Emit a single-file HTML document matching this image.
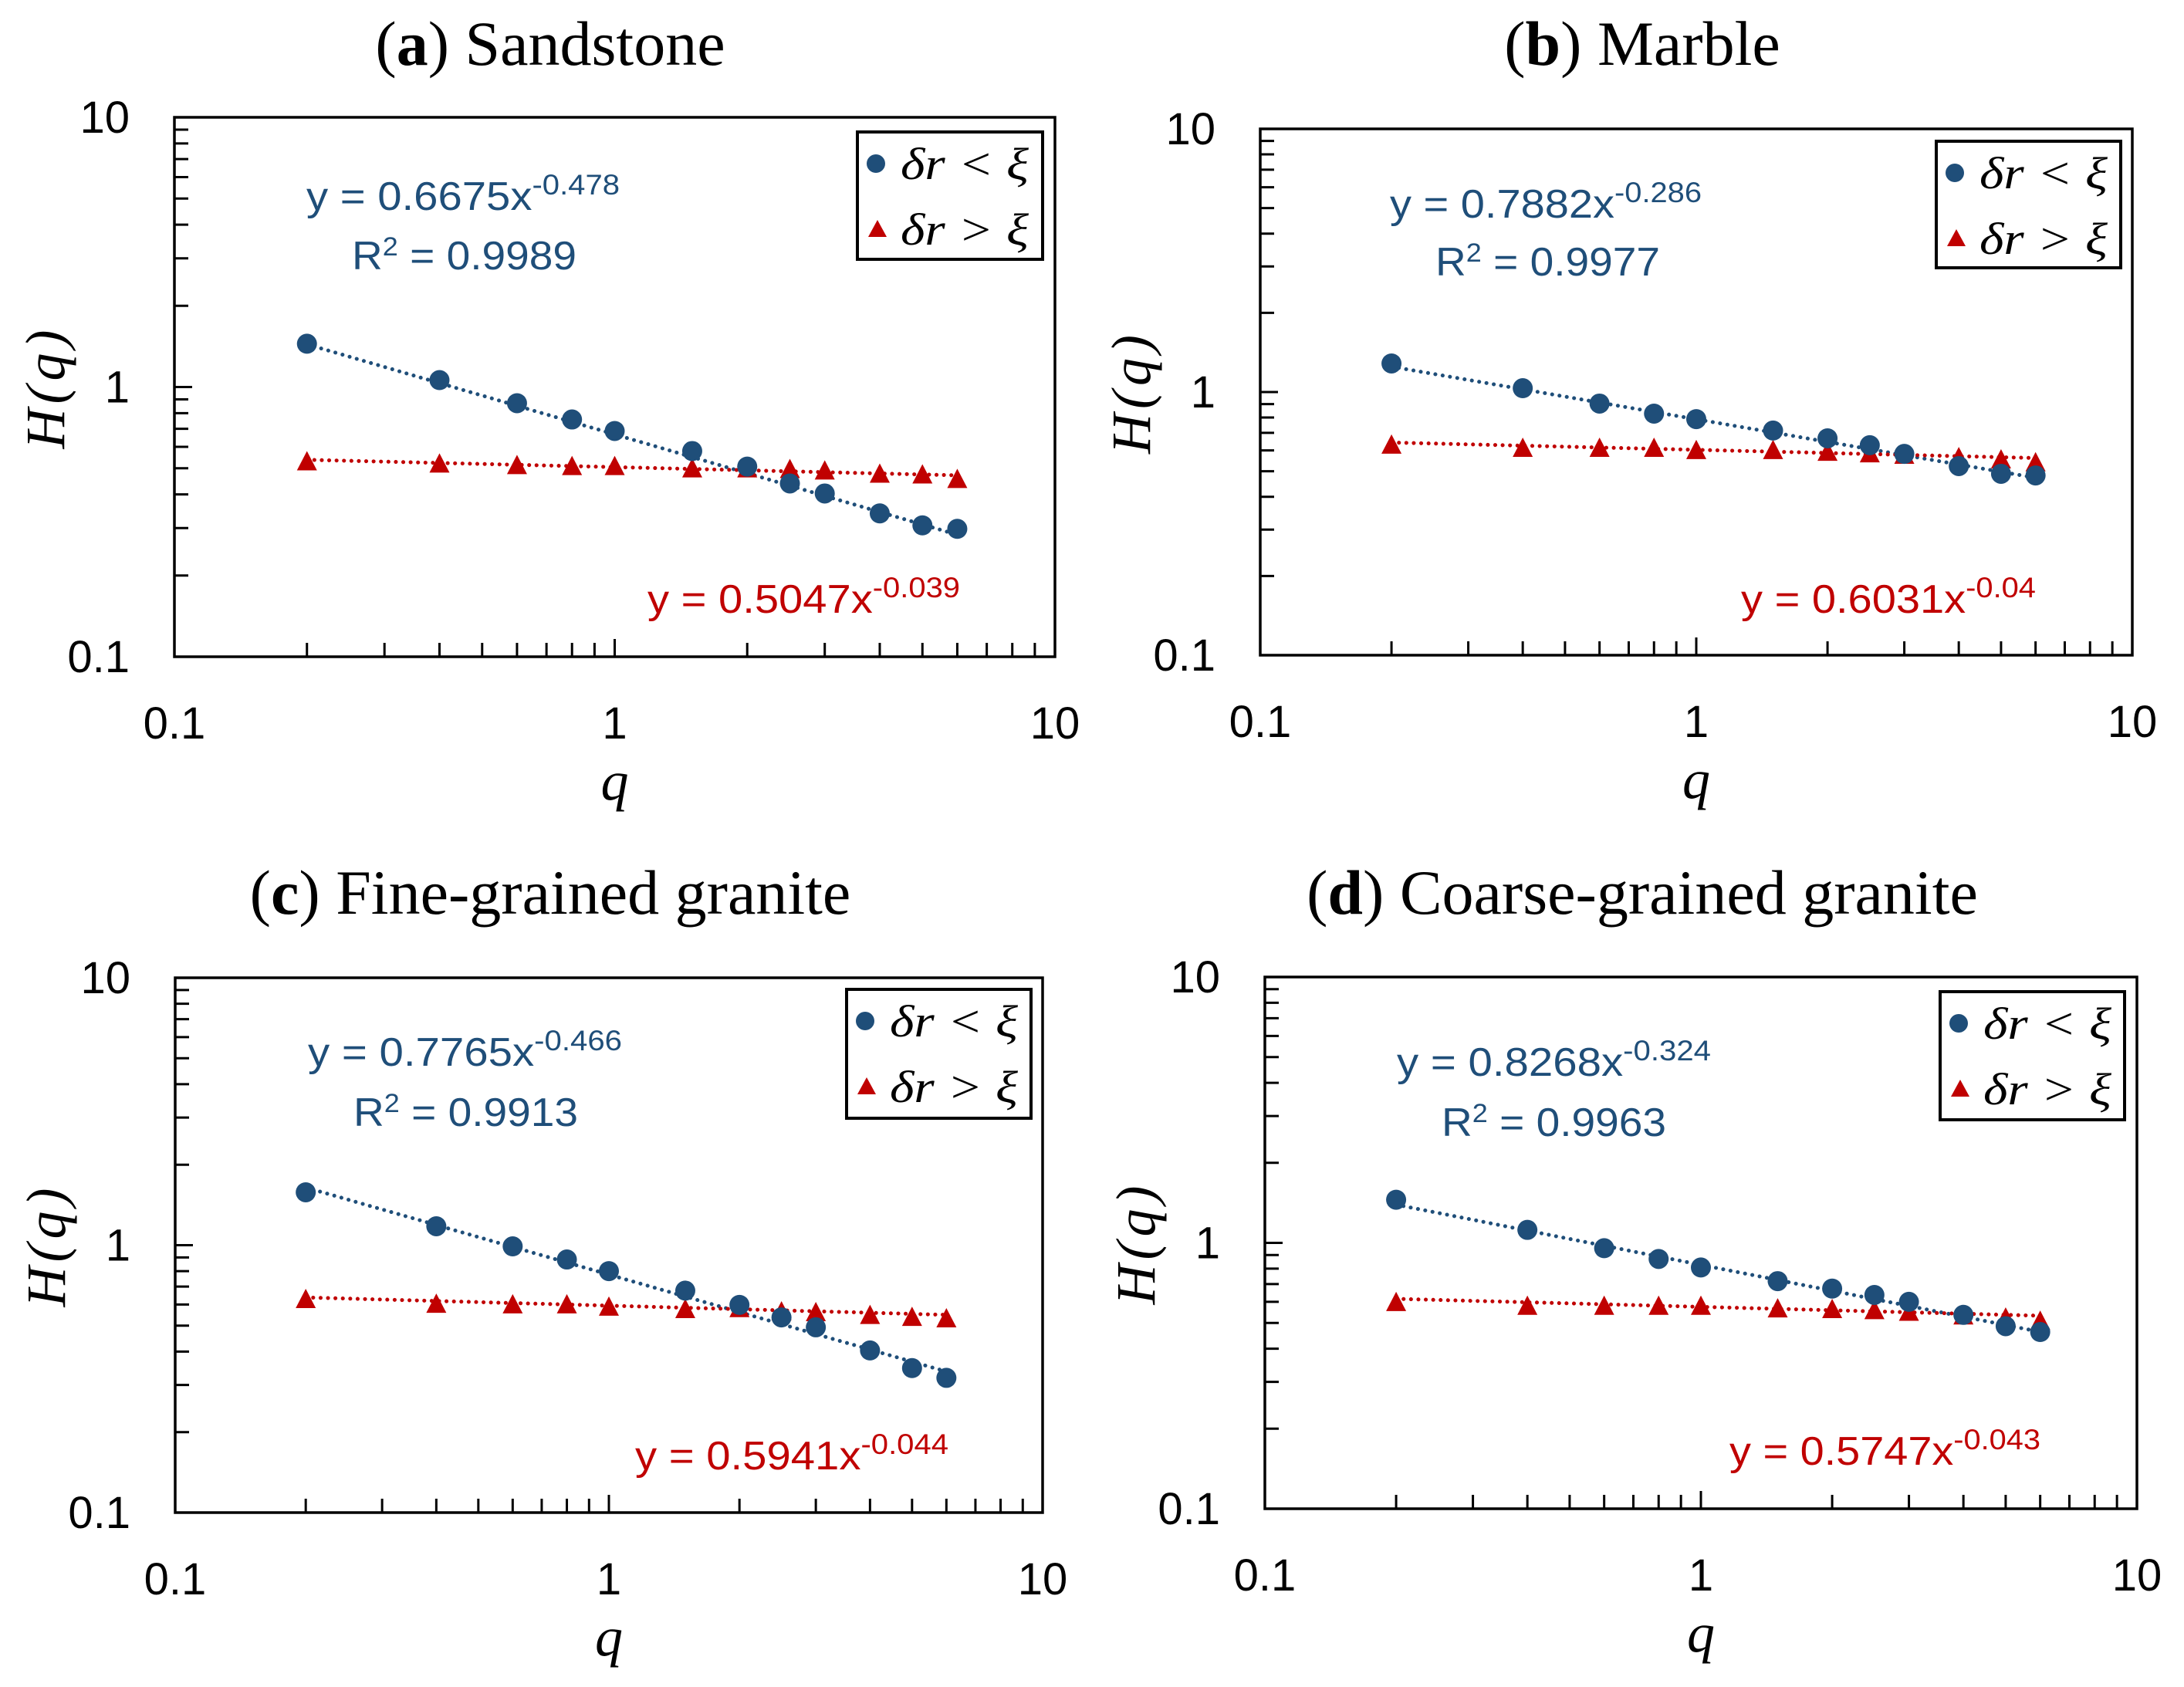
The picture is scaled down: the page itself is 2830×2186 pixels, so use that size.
<!DOCTYPE html>
<html><head><meta charset="utf-8"><style>
html,body{margin:0;padding:0;background:#fff;}
svg{display:block;}
</style></head><body>
<svg id="fig" width="2830" height="2186" viewBox="0 0 2830 2186" xmlns="http://www.w3.org/2000/svg"></svg>
<script>
const qValues = [0.2,0.4,0.6,0.8,1,1.5,2,2.5,3,4,5,6];
const blueA = [1.447,1.061,0.871,0.758,0.687,0.579,0.507,0.439,0.403,0.340,0.307,0.298];
const redA  = [0.528,0.518,0.511,0.507,0.507,0.497,0.497,0.494,0.488,0.475,0.472,0.454];
const blueB = [1.284,1.034,0.904,0.828,0.789,0.714,0.667,0.628,0.582,0.523,0.489,0.482];
const redB  = [0.628,0.611,0.611,0.611,0.599,0.599,0.590,0.582,0.575,0.563,0.552,0.538];
const blueC = [1.577,1.177,0.990,0.884,0.800,0.676,0.598,0.537,0.493,0.404,0.347,0.319];
const redC  = [0.626,0.601,0.598,0.598,0.586,0.574,0.579,0.563,0.559,0.546,0.537,0.530];
const blueD = [1.453,1.119,0.955,0.870,0.808,0.718,0.673,0.637,0.600,0.536,0.486,0.462];
const redD  = [0.596,0.577,0.577,0.577,0.577,0.564,0.561,0.556,0.548,0.531,0.521,0.507];
const fitCoefBlue = [0.6675,0.7882,0.7765,0.8268];
const fitExpBlue = [-0.478,-0.286,-0.466,-0.324];
const fitCoefRed = [0.5047,0.6031,0.5941,0.5747];
const fitExpRed = [-0.039,-0.04,-0.044,-0.043];
const r2Labels = ["0.9989","0.9977","0.9913","0.9963"];
const titleLetters = ["a","b","c","d"];
const titleNames = ["Sandstone","Marble","Fine-grained granite","Coarse-grained granite"];
const xTickLabels = ["0.1","1","10"];
const yTickLabels = ["0.1","1","10"];

const blueSeries=[blueA,blueB,blueC,blueD], redSeries=[redA,redB,redC,redD];
const BLUE="#1F4E79", RED="#C00000";
const panels=[
 {L:226,R:1367,T:152,B:851,tx:713,ty:84,eq1:[397,272,406],r2:[456,349,291],eq2:[839,794,405],leg:[1111,171,1351,336]},
 {L:1633,R:2763,T:167,B:849,tx:2128,ty:84,eq1:[1801,282,404],r2:[1860,357,291],eq2:[2256,794,382],leg:[2509,183,2748,347]},
 {L:227,R:1351,T:1267,B:1960,tx:713,ty:1184,eq1:[399,1381,407],r2:[458,1459,291],eq2:[823,1904,406],leg:[1097,1282,1336,1449]},
 {L:1639,R:2769,T:1266,B:1955,tx:2128,ty:1184,eq1:[1810,1394,407],r2:[1868,1472,291],eq2:[2241,1898,403],leg:[2514,1285,2753,1451]}
];
const NS="http://www.w3.org/2000/svg";
const svg=document.getElementById('fig');
function mk(tag,attrs,parent,text){const e=document.createElementNS(NS,tag);for(const k in attrs)e.setAttribute(k,attrs[k]);if(text!==undefined)e.textContent=text;(parent||svg).appendChild(e);return e;}

panels.forEach((p,i)=>{
 const g=mk('g',{});
 
 
 const xs=v=>p.L+(p.R-p.L)*(Math.log10(v)+1)/2;
 const ys=v=>p.B-(p.B-p.T)*(Math.log10(v)+1)/2;
 const t=mk('text',{x:p.tx,y:p.ty,'text-anchor':'middle','font-family':'"Liberation Serif",serif','font-size':82},g);
 
 
 mk('tspan',{},t,'(');mk('tspan',{'font-weight':'bold'},t,titleLetters[i]);mk('tspan',{},t,') '+titleNames[i]);
 for(let d=-1;d<1;d++){for(let m=1;m<=9;m++){const v=m*Math.pow(10,d);if(m===1&&d===-1)continue;
   const len=m===1?23:18;
   const ty=ys(v);const tk=mk('line',{x1:p.L,x2:p.L+len,y1:ty,y2:ty,stroke:'#000','stroke-width':3},g);
   
   
   const tx=xs(v);const tk2=mk('line',{x1:tx,x2:tx,y1:p.B,y2:p.B-len,stroke:'#000','stroke-width':3},g);
   
   
 }}
 const fr=mk('rect',{x:p.L,y:p.T,width:p.R-p.L,height:p.B-p.T,fill:'none',stroke:'#000','stroke-width':3.5},g);
 
 
 [0.1,1,10].forEach((v,k)=>{
   const yl=mk('text',{x:p.L-58,y:ys(v)+20,'text-anchor':'end','font-family':'"Liberation Sans",sans-serif','font-size':58},g,yTickLabels[k]);
   
   
   const xl=mk('text',{x:xs(v),y:p.B+106,'text-anchor':'middle','font-family':'"Liberation Sans",sans-serif','font-size':58},g,xTickLabels[k]);
   
   
 });
 const xt=mk('text',{x:(p.L+p.R)/2,y:p.B+185,'text-anchor':'middle','font-family':'"Liberation Serif",serif','font-style':'italic','font-size':72},g,'q');
 
 
 const yc=ys(1);
 const yt=mk('text',{x:0,y:0,'text-anchor':'middle','font-family':'"Liberation Serif",serif','font-style':'italic','font-size':72,'letter-spacing':6,transform:`translate(${p.L-143},${yc}) rotate(-90)`},g,'H(q)');
 
 
 const fit=(a,b,col,name)=>{
   const pts=[];for(let k=0;k<=40;k++){const q=0.2*Math.pow(30,k/40);pts.push(xs(q).toFixed(1)+','+ys(a*Math.pow(q,b)).toFixed(1));}
   const l=mk('polyline',{points:pts.join(' '),fill:'none',stroke:col,'stroke-width':5,'stroke-dasharray':'0.1 9.5','stroke-linecap':'round'},g);
   
   
 };
 fit(fitCoefBlue[i],fitExpBlue[i],BLUE,'trendline-small-dr');
 fit(fitCoefRed[i],fitExpRed[i],RED,'trendline-large-dr');
 redSeries[i].forEach((v,k)=>{const cx=xs(qValues[k]),cy=ys(v);
   const tr=mk('polygon',{points:`${cx},${cy-14} ${cx-13},${cy+11} ${cx+13},${cy+11}`,fill:RED},g);
   
   });
 blueSeries[i].forEach((v,k)=>{
   const c=mk('circle',{cx:xs(qValues[k]),cy:ys(v),r:13,fill:BLUE},g);
   
   });
 const e1=mk('text',{x:p.eq1[0],y:p.eq1[1],fill:BLUE,'font-family':'"Liberation Sans",sans-serif','font-size':52,textLength:p.eq1[2],lengthAdjust:'spacingAndGlyphs'},g);
 
 
 mk('tspan',{},e1,'y = '+fitCoefBlue[i].toFixed(4)+'x');mk('tspan',{dy:-20,'font-size':37},e1,String(fitExpBlue[i]));
 const e2=mk('text',{x:p.r2[0],y:p.r2[1],fill:BLUE,'font-family':'"Liberation Sans",sans-serif','font-size':52,textLength:p.r2[2],lengthAdjust:'spacingAndGlyphs'},g);
 
 
 mk('tspan',{},e2,'R');mk('tspan',{dy:-18,'font-size':34},e2,'2');mk('tspan',{dy:18},e2,' = '+r2Labels[i]);
 const e3=mk('text',{x:p.eq2[0],y:p.eq2[1],fill:RED,'font-family':'"Liberation Sans",sans-serif','font-size':52,textLength:p.eq2[2],lengthAdjust:'spacingAndGlyphs'},g);
 
 
 mk('tspan',{},e3,'y = '+fitCoefRed[i].toFixed(4)+'x');mk('tspan',{dy:-20,'font-size':37},e3,String(fitExpRed[i]));
 const [lx1,ly1,lx2,ly2]=p.leg;
 const lg=mk('g',{},g);
 
 
 mk('rect',{x:lx1,y:ly1,width:lx2-lx1,height:ly2-ly1,fill:'#fff',stroke:'#000','stroke-width':4},lg);
 const c1=ly1+41, c2=ly1+126;
 const lc=mk('circle',{cx:lx1+24,cy:c1,r:12,fill:BLUE},lg);
 
 
 const lt=mk('polygon',{points:`${lx1+26},${c2-12} ${lx1+14},${c2+10} ${lx1+38},${c2+10}`,fill:RED},lg);
 
 
 const l1=mk('text',{x:lx1+56,y:c1+20,'font-family':'"Liberation Serif",serif','font-style':'italic','font-size':58,textLength:166,lengthAdjust:'spacingAndGlyphs'},lg,'δr < ξ');
 
 
 const l2=mk('text',{x:lx1+56,y:c2+20,'font-family':'"Liberation Serif",serif','font-style':'italic','font-size':58,textLength:166,lengthAdjust:'spacingAndGlyphs'},lg,'δr > ξ');
 
 
});
</script>
</body></html>
